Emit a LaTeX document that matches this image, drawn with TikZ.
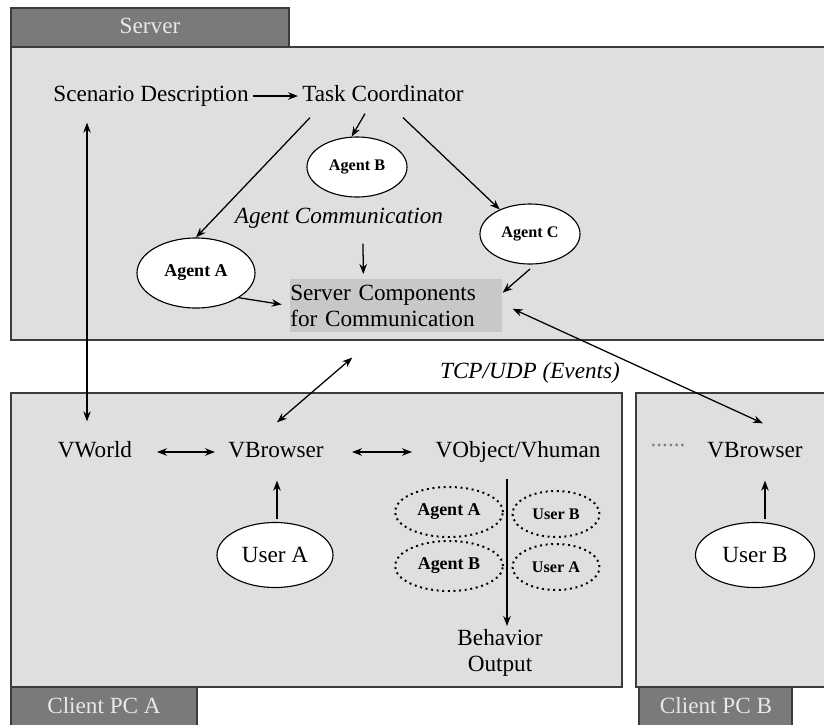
\documentclass[tikz,border=0pt]{standalone}
\usepackage{fontspec}
\setmainfont{Liberation Serif}
\usetikzlibrary{shapes.geometric, arrows.meta, calc}
\definecolor{panelbg}{HTML}{DFDFDF}
\definecolor{tabbg}{HTML}{7A7A7A}
\definecolor{tabfg}{HTML}{E8E8E8}
\definecolor{compbg}{HTML}{C8C8C8}
\definecolor{edge}{HTML}{3C3C3C}

\begin{document}
\begin{tikzpicture}[x=0.025cm, y=-0.025cm,
    every node/.style={font=\fontsize{16.5}{19}\selectfont},
    lbl/.style={inner sep=2pt, text height=11.5pt, text depth=3.5pt},
    panel/.style={draw=edge, line width=1.1pt, fill=panelbg},
    tab/.style={draw=edge, line width=1.1pt, fill=tabbg},
    tabtxt/.style={lbl, text=tabfg},
    ag/.style={ellipse, draw, line width=0.8pt, fill=white, inner sep=0pt,
               font=\fontsize{12.8}{15}\selectfont\bfseries},
    sm/.style={ag, font=\fontsize{11.5}{14}\selectfont\bfseries},
    usr/.style={ellipse, draw, line width=0.8pt, fill=white, inner sep=0pt},
    dotag/.style={ellipse, draw, line width=1.4pt, dash pattern=on 1.4pt off 2.6pt,
                  inner sep=0pt, font=\fontsize{12.8}{15}\selectfont\bfseries},
    dotsm/.style={dotag, font=\fontsize{11.5}{14}\selectfont\bfseries},
    arr/.style={-{Stealth[length=2.5mm]}, line width=0.9pt},
    darr/.style={{Stealth[length=2.5mm]}-{Stealth[length=2.5mm]}, line width=0.9pt}
]
    \useasboundingbox (0,0) rectangle (824,725);
    \clip (0,0) rectangle (824,725);
    \fill[white] (0,0) rectangle (824,725);

    % server
    \draw[panel] (11,47) rectangle (860,340);
    \draw[tab] (11,8) rectangle (289,47);
    \node[tabtxt] (srvtab) at (150,28) {Server};

    % clients
    \draw[panel] (11,393) rectangle (622,687);
    \draw[tab] (11,687) rectangle (197,740);
    \node[tabtxt] (tabA) at (104,708) {Client PC A};
    \draw[panel] (636,393) rectangle (860,687);
    \draw[tab] (639,687) rectangle (792,740);
    \node[tabtxt] (tabB) at (716,708) {Client PC B};

    % server side
    \node[lbl] (scen) at (151,96) {Scenario Description};
    \node[lbl] (task) at (383,96) {Task Coordinator};
    \node[sm, minimum width=2.5cm, minimum height=1.5cm] (agB) at (357,167) {Agent B};
    \node[ag, minimum width=2.95cm, minimum height=1.75cm] (agA) at (196,273) {Agent A};
    \node[sm, minimum width=2.5cm, minimum height=1.5cm] (agC) at (530,234) {Agent C};
    \node[lbl, font=\fontsize{16.5}{19}\selectfont\itshape] (comm) at (339,218) {Agent Communication};
    \node[fill=compbg, text width=5.3cm, minimum height=1.325cm, inner sep=0pt,
          align=left, anchor=north west] (srv) at (290,279) {Server Components\\for Communication};
    \node[lbl, font=\fontsize{16.5}{19}\selectfont\itshape] (tcp) at (530,373) {TCP/UDP (Events)};

    % client A
    \node[lbl] (vw) at (95,452) {VWorld};
    \node[lbl] (vbA) at (276,452) {VBrowser};
    \node[lbl] (vobj) at (518,452) {VObject/Vhuman};
    \node[usr, minimum width=2.9cm, minimum height=1.625cm] (uA) at (275,555) {User A};
    \node[dotag, minimum width=2.7cm, minimum height=1.25cm] (dA) at (449,512) {Agent A};
    \node[dotag, minimum width=2.7cm, minimum height=1.25cm] (dB) at (449,566) {Agent B};
    \node[dotsm, minimum width=2.175cm, minimum height=1.15cm] (dUB) at (556,514) {User B};
    \node[dotsm, minimum width=2.175cm, minimum height=1.15cm] (dUA) at (556,567) {User A};
    \node[align=center, inner sep=2pt] (bout) at (500,653) {Behavior\\Output};

    % client B
    \node[lbl, text=gray] (more) at (668,441) {......};
    \node[lbl] (vbB) at (755,452) {VBrowser};
    \node[usr, minimum width=2.975cm, minimum height=1.625cm] (uB) at (755,555) {User B};

    % connectors
    \draw[arr] ($(scen)+(102,0)$) -- ($(task)+(-85,0)$);
    \draw[arr] ($(task.south)+(-18,4)$) -- (agB.100);
    \draw[arr] ($(task.south)+(-73,8)$) -- (agA.north);
    \draw[arr] ($(task.south)+(20,8)$) -- (agC.141);
    \draw[arr] ($(comm.south)+(24,12)$) -- ($(srv.north)+(-33,-5)$);
    \draw[arr, shorten >=6pt] (agA.-30) -- (srv.west);
    \draw[arr, shorten <=5pt] (agC.-80) -- (srv.7);
    \draw[darr] ($(scen.south)+(-64,13)$) -- ($(vw.north)+(-8,-17)$);
    \draw[darr] ($(vw)+(62,0)$) -- ($(vbA)+(-61,0)$);
    \draw[darr] ($(vbA)+(76,0)$) -- ($(vobj)+(-106,0)$);
    \draw[arr] ($(uA.north)+(2,-3)$) -- ($(vbA.south)+(1,15)$);
    \draw[darr] ($(vbA.north)+(1,-16)$) -- ($(srv.south)+(-44,25)$);
    \draw[darr] ($(srv.east)+(10,3)$) -- ($(vbB.north)+(8,-15)$);
    \draw[arr] ($(vobj.south)+(-11,13)$) -- ($(bout.north)+(7,0)$);
    \draw[arr] ($(uB.north)+(10,-3)$) -- ($(vbB.south)+(10,15)$);
\end{tikzpicture}
\end{document}
